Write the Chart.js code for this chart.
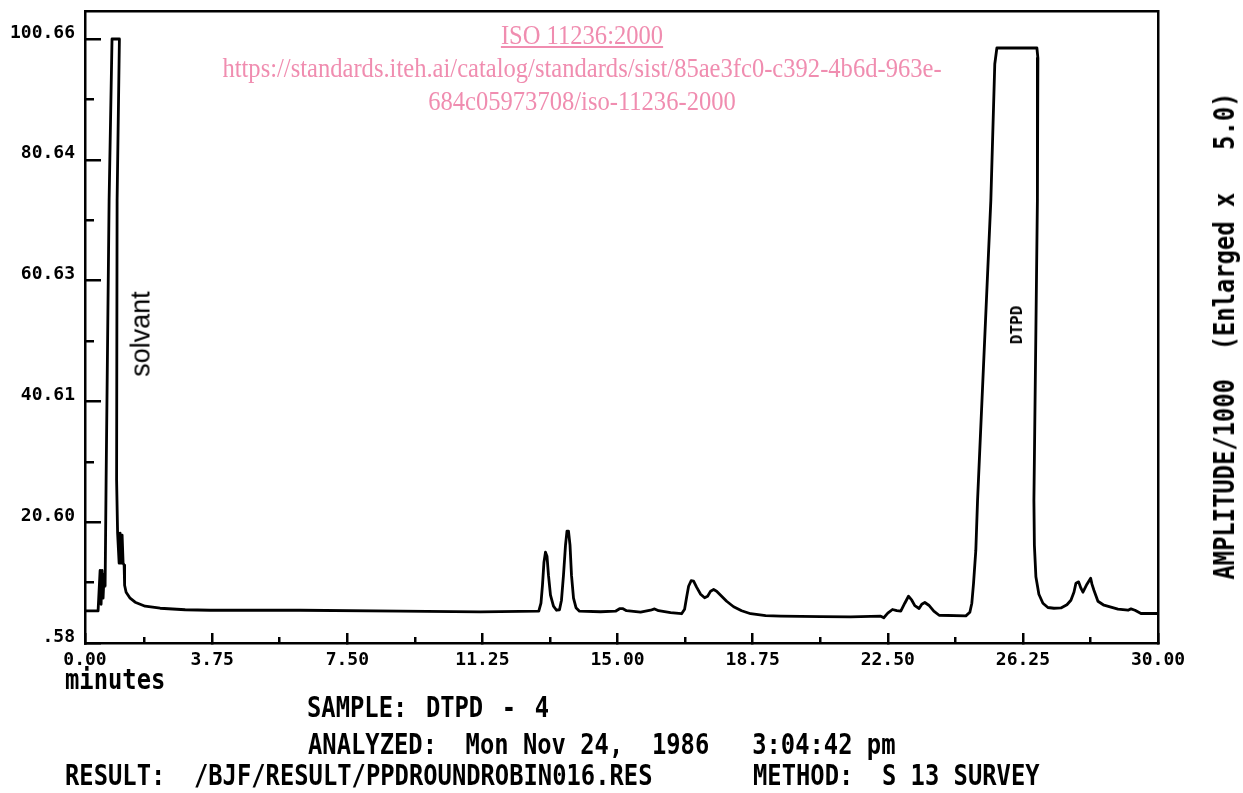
<!DOCTYPE html>
<html>
<head>
<meta charset="utf-8">
<title>DTPD chromatogram</title>
<script src="https://cdn.jsdelivr.net/npm/chart.js@4.4.1/dist/chart.umd.min.js"></script>
<style>
  body { margin: 0; background: #fff; }
  #wrap { position: relative; width: 1243px; height: 793px; overflow: hidden; background: #fff; }
  #chart { position: absolute; left: 0; top: 0; }
  .txt { position: absolute; color: #000; white-space: pre; line-height: 1; }
  .mono { font-family: "DejaVu Sans Mono", monospace; font-weight: bold; }
  .foot { font-size: 28px; transform: scaleX(0.85); transform-origin: 0 0; }
  .rot { transform: translate(-50%, -50%) rotate(-90deg); }
  #wm {
    position: absolute; left: 182px; top: 19px; width: 800px;
    text-align: center; font-family: "Liberation Serif", serif; font-size: 27px;
    line-height: 33px; color: #f08db0; white-space: nowrap;
    transform: scaleX(0.91); transform-origin: 400px 0;
  }
  #wm .u { text-decoration: underline; }
</style>
</head>
<body>
<div id="wrap">
  <canvas id="chart" width="1243" height="793"></canvas>

  <div id="wm">
    <div class="u">ISO 11236:2000</div>
    <div>https://standards.iteh.ai/catalog/standards/sist/85ae3fc0-c392-4b6d-963e-</div>
    <div>684c05973708/iso-11236-2000</div>
  </div>

  <div class="txt rot" style="left:141px; top:334px; font-family:'Liberation Sans', sans-serif; font-size:27px;">solvant</div>
  <div class="txt mono rot" style="left:1017px; top:325px; font-size:16px;">DTPD</div>
  <div class="txt mono" style="left:1225px; top:336px; font-size:28px; transform: translate(-50%, -50%) rotate(-90deg) scaleX(0.85);">AMPLITUDE/1000  (Enlarged x   5.0)</div>

  <div class="txt mono foot" style="left:65px; top:666px;">minutes</div>
  <div class="txt mono foot" style="left:307px; top:694px; word-spacing:5px;">SAMPLE: DTPD - 4</div>
  <div class="txt mono foot" style="left:308px; top:731px;">ANALYZED:  Mon Nov 24,  1986   3:04:42 pm</div>
  <div class="txt mono foot" style="left:65px; top:762px;">RESULT:  /BJF/RESULT/PPDROUNDROBIN016.RES</div>
  <div class="txt mono foot" style="left:753px; top:762px;">METHOD:  S 13 SURVEY</div>
</div>

<script>
// retention time (minutes)
const times = [
    // solvent
    0.22, 0.583, 0.639, 0.667, 0.694, 0.722, 0.75, 0.778, 0.806, 0.889,
    0.97, 1.175, 1.111, 1.097, 1.125, 1.167, 1.194, 1.222, 1.25, 1.278,
    1.306, 1.319, 1.361, 1.472, 1.611, 1.889, 2.306, 3.0, 3.694, 6.194,
    8.972, 11.194,
    // pair near 13 min
    12.814, 12.875, 12.917, 12.958, 13.0, 13.042, 13.083, 13.139, 13.222, 13.306,
    13.389, 13.444, 13.5, 13.556, 13.597, 13.639, 13.681, 13.722, 13.778, 13.847,
    13.944,
    // small bumps
    14.528, 14.944, 15.056, 15.139, 15.25, 15.639, 15.917, 16.028, 16.139, 16.472,
    16.778,
    // group near 17 min
    16.861, 16.917, 16.972, 17.042, 17.111, 17.194, 17.306, 17.417, 17.5, 17.583,
    17.667, 17.75, 17.861, 18.028, 18.222, 18.444, 18.694, 19.111, 19.528, 20.639,
    21.472,
    // group near 23 min
    22.306, 22.389, 22.5, 22.631, 22.75, 22.861, 22.972, 23.075, 23.167, 23.25,
    23.369, 23.444, 23.528, 23.639, 23.778, 23.925,
    // DTPD
    24.667, 24.778, 24.833, 24.881, 24.944, 24.992, 25.361, 25.47, 25.528, 26.639,
    26.667, 26.653, 26.556, 26.569, 26.611, 26.694, 26.806, 26.944, 27.111, 27.306,
    // tail
    27.472, 27.583, 27.667, 27.722, 27.797, 27.861, 27.917, 28.028, 28.131, 28.167,
    28.222, 28.333, 28.5, 28.694, 28.889, 29.167, 29.25, 29.361, 29.528, 30.0
];
// amplitude / 1000, same order
const amplitudes = [
    // solvent
    5.9, 5.9, 12.6, 7.0, 12.6, 8.0, 12.0, 10.0, 27.6, 74.0,
    100.66, 100.66, 74.0, 27.6, 18.78, 13.8, 18.8, 13.8, 18.45, 13.8,
    13.47, 10.16, 9.0, 8.0, 7.34, 6.68, 6.34, 6.09, 6.01, 6.01,
    5.85, 5.73,
    // pair near 13 min
    5.85, 7.17, 10.16, 13.97, 15.63, 14.97, 11.82, 8.5, 6.68, 6.01,
    6.09, 7.67, 11.82, 16.79, 19.11, 19.11, 16.79, 11.82, 8.0, 6.43,
    5.85,
    // small bumps
    5.76, 5.85, 6.26, 6.29, 5.93, 5.68, 6.01, 6.23, 5.93, 5.6,
    5.43,
    // group near 17 min
    6.18, 8.17, 9.99, 10.9, 10.82, 9.83, 8.66, 8.08, 8.33, 9.17,
    9.44, 9.17, 8.5, 7.5, 6.59, 5.93, 5.43, 5.1, 5.02, 4.94,
    4.9,
    // group near 23 min
    5.02, 4.77, 5.52, 6.13, 5.93, 5.85, 7.17, 8.33, 7.67, 6.76,
    6.29, 7.01, 7.29, 6.84, 5.85, 5.18,
    // DTPD
    5.07, 5.68, 7.17, 10.49, 15.96, 24.25, 73.97, 96.51, 99.17, 99.17,
    97.5, 73.97, 24.25, 16.79, 11.54, 8.66, 7.17, 6.46, 6.34, 6.39,
    // tail
    6.92, 7.67, 9.0, 10.49, 10.71, 9.66, 9.0, 10.33, 11.32, 10.33,
    9.33, 7.5, 6.84, 6.51, 6.18, 6.01, 6.23, 6.01, 5.47, 5.47
];

// axis ticks as printed by the recorder
const xMajorValues = [0, 3.75, 7.5, 11.25, 15, 18.75, 22.5, 26.25, 30];
const xTickLabels = ['0.00', '3.75', '7.50', '11.25', '15.00', '18.75', '22.50', '26.25', '30.00'];
const xMinorValues = [1.875, 5.625, 9.375, 13.125, 16.875, 20.625, 24.375, 28.125];
const yMajorValues = [0.58, 20.60, 40.61, 60.63, 80.64, 100.66];
const yTickLabels = ['.58', '20.60', '40.61', '60.63', '80.64', '100.66'];
const yMinorValues = [10.59, 30.605, 50.62, 70.635, 90.65];

// the printed "0.00" sits on the axis corner, which is a little past zero
const X_MIN = 0.22, X_MAX = 30;
const Y_MIN = 0.58, Y_MAX = 105.3;

const ink = '#000';
const tickFont = { family: 'DejaVu Sans Mono', size: 18, weight: 'bold' };

const points = times.map((t, i) => ({ x: t, y: amplitudes[i] }));

// fixed box sizes so the plot frame lands where the recorder drew it
const fixBox = (prop, size) => (axis) => {
    axis[prop] = size;
    axis.paddingTop = 0;
    axis.paddingBottom = 0;
    axis.paddingLeft = 0;
    axis.paddingRight = 0;
};

const tickAxis = (extra) => Object.assign({
    type: 'linear',
    border: { display: false },
    grid: { drawOnChartArea: false, drawTicks: true, color: ink, lineWidth: 2.5 },
    ticks: { color: ink, font: tickFont, autoSkip: false, maxRotation: 0, padding: 0, callback: () => '' }
}, extra);

new Chart(document.getElementById('chart'), {
    type: 'line',
    data: {
        datasets: [{
            data: points,
            borderColor: ink,
            borderWidth: 2.8,
            borderJoinStyle: 'round',
            borderCapStyle: 'round',
            pointRadius: 0,
            tension: 0,
            fill: false
        }]
    },
    options: {
        responsive: false,
        animation: false,
        events: [],
        layout: { padding: 0 },
        plugins: { legend: { display: false }, tooltip: { enabled: false } },
        scales: {
            x: tickAxis({
                position: 'bottom', weight: 1, min: X_MIN, max: X_MAX,
                afterBuildTicks: (axis) => { axis.ticks = xMajorValues.map(v => ({ value: Math.max(v, X_MIN) })); },
                afterFit: fixBox('height', 150),
                border: { display: true, color: ink, width: 2.5 },
                grid: { drawOnChartArea: false, drawTicks: true, tickLength: -10, color: ink, lineWidth: 2.5 },
                ticks: { color: ink, font: tickFont, padding: 17, autoSkip: false, maxRotation: 0,
                    callback: (v, i) => xTickLabels[i] }
            }),
            xMinor: tickAxis({
                position: 'bottom', weight: 0, min: X_MIN, max: X_MAX,
                afterBuildTicks: (axis) => { axis.ticks = xMinorValues.map(v => ({ value: v })); },
                afterFit: fixBox('height', 0),
                grid: { drawOnChartArea: false, drawTicks: true, tickLength: -6, color: ink, lineWidth: 2.5 }
            }),
            xTop: {
                type: 'linear', position: 'top', min: X_MIN, max: X_MAX,
                afterFit: fixBox('height', 11),
                border: { display: true, color: ink, width: 2.5 },
                grid: { display: false },
                ticks: { display: false }
            },
            y: tickAxis({
                position: 'left', weight: 1, min: Y_MIN, max: Y_MAX,
                afterBuildTicks: (axis) => { axis.ticks = yMajorValues.map(v => ({ value: v })); },
                afterFit: fixBox('width', 85),
                border: { display: true, color: ink, width: 2.5 },
                grid: { drawOnChartArea: false, drawTicks: true, tickLength: -16, color: ink, lineWidth: 2.5 },
                ticks: { color: ink, font: tickFont, padding: 26, labelOffset: -6, autoSkip: false,
                    callback: (v, i) => yTickLabels[i] }
            }),
            yMinor: tickAxis({
                position: 'left', weight: 0, min: Y_MIN, max: Y_MAX,
                afterBuildTicks: (axis) => { axis.ticks = yMinorValues.map(v => ({ value: v })); },
                afterFit: fixBox('width', 0),
                grid: { drawOnChartArea: false, drawTicks: true, tickLength: -9, color: ink, lineWidth: 2.5 }
            }),
            yRight: {
                type: 'linear', position: 'right', min: Y_MIN, max: Y_MAX,
                afterFit: fixBox('width', 85),
                border: { display: true, color: ink, width: 2.5 },
                grid: { display: false },
                ticks: { display: false }
            }
        }
    }
});
</script>
</body>
</html>
